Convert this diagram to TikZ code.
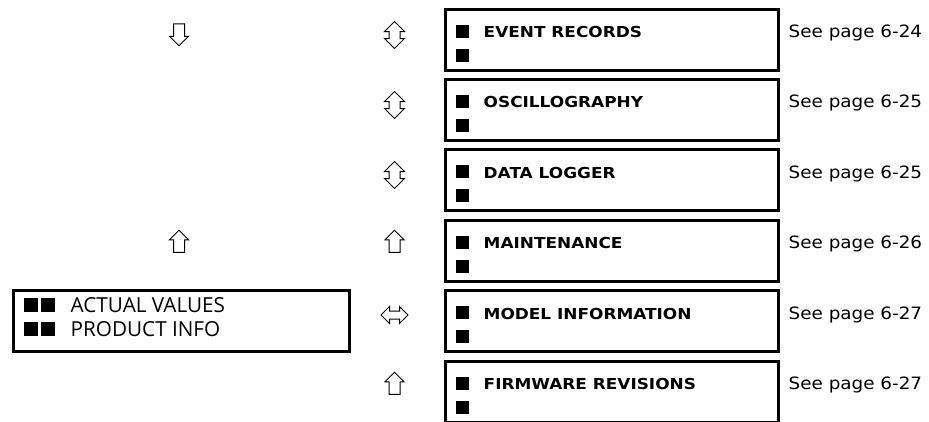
\documentclass[tikz,border=0pt]{standalone}
\usepackage{fontspec}
\setmainfont{Open Sans}
\newfontfamily\menufont[FakeStretch=1.12]{DejaVu Sans}
\newfontfamily\pagefont[FakeStretch=1.08]{DejaVu Sans}
\usetikzlibrary{shapes.arrows}

\newcommand{\menusq}[1]{\rule{#1}{#1}}

\tikzset{
  menubox/.style={draw, line width=3pt, minimum width=333pt, minimum height=61pt,
    inner sep=0pt, anchor=north west},
  rootbox/.style={menubox, minimum width=336pt},
  menulabel/.style={anchor=base west, inner sep=0pt,
    font=\menufont\bfseries\fontsize{15.1}{18}\selectfont},
  rootlabel/.style={anchor=base west, inner sep=0pt,
    font=\fontsize{20.7}{24}\selectfont},
  pageref/.style={anchor=base west, inner sep=0pt,
    font=\pagefont\fontsize{17}{19}\selectfont},
  uparrow/.style={draw, line width=1pt, single arrow, inner xsep=0pt, inner ysep=5pt,
    single arrow head extend=4pt, minimum height=22pt, rotate=90},
  downarrow/.style={uparrow, rotate=180},
  updownarrow/.style={draw, line width=1pt, double arrow, inner xsep=0pt, inner ysep=5pt,
    double arrow head extend=4.5pt, minimum height=27pt, rotate=90},
  leftrightarrow/.style={draw, line width=1pt, double arrow, inner xsep=0pt, inner ysep=3.5pt,
    double arrow head extend=4.5pt, minimum height=27pt}
}

\begin{document}
\begin{tikzpicture}[x=1pt, y=-1pt]
\useasboundingbox (0,0) rectangle (929,421);

% Menu boxes
\node[menubox] (ev) at (443.5,7.5) {};
\node[menubox] (osc) at (443.5,77.9) {};
\node[menubox] (dl) at (443.5,148.3) {};
\node[menubox] (mnt) at (443.5,218.7) {};
\node[menubox] (mdl) at (443.5,289.1) {};
\node[menubox] (fw) at (443.5,359.5) {};
\node[rootbox] (root) at (11.5,289.1) {};

% Labels inside the boxes
\node[menulabel] (ev-a) at ([shift={(12,30)}]ev.north west) {\menusq{13pt}\hspace{15pt}EVENT RECORDS};
\node[menulabel] (ev-b) at ([shift={(12,54)}]ev.north west) {\menusq{13pt}};
\node[menulabel] (osc-a) at ([shift={(12,30)}]osc.north west) {\menusq{13pt}\hspace{15pt}OSCILLOGRAPHY};
\node[menulabel] (osc-b) at ([shift={(12,54)}]osc.north west) {\menusq{13pt}};
\node[menulabel] (dl-a) at ([shift={(12,30)}]dl.north west) {\menusq{13pt}\hspace{15pt}DATA LOGGER};
\node[menulabel] (dl-b) at ([shift={(12,54)}]dl.north west) {\menusq{13pt}};
\node[menulabel] (mnt-a) at ([shift={(12,30)}]mnt.north west) {\menusq{13pt}\hspace{15pt}MAINTENANCE};
\node[menulabel] (mnt-b) at ([shift={(12,54)}]mnt.north west) {\menusq{13pt}};
\node[menulabel] (mdl-a) at ([shift={(12,30)}]mdl.north west) {\menusq{13pt}\hspace{15pt}MODEL INFORMATION};
\node[menulabel] (mdl-b) at ([shift={(12,54)}]mdl.north west) {\menusq{13pt}};
\node[menulabel] (fw-a) at ([shift={(12,30)}]fw.north west) {\menusq{13pt}\hspace{15pt}FIRMWARE REVISIONS};
\node[menulabel] (fw-b) at ([shift={(12,54)}]fw.north west) {\menusq{13pt}};
\node[rootlabel] (root-a) at ([shift={(12,23)}]root.north west) {\menusq{14pt}\hspace{3pt}\menusq{14pt}\hspace{16pt}ACTUAL VALUES};
\node[rootlabel] (root-b) at ([shift={(12,47)}]root.north west) {\menusq{14pt}\hspace{3pt}\menusq{14pt}\hspace{16pt}PRODUCT INFO};

% Page references
\node[pageref] (ev-p) at ([shift={(9,30)}]ev.north east) {See page 6-24};
\node[pageref] (osc-p) at ([shift={(9,30)}]osc.north east) {See page 6-25};
\node[pageref] (dl-p) at ([shift={(9,30)}]dl.north east) {See page 6-25};
\node[pageref] (mnt-p) at ([shift={(9,30)}]mnt.north east) {See page 6-26};
\node[pageref] (mdl-p) at ([shift={(9,30)}]mdl.north east) {See page 6-27};
\node[pageref] (fw-p) at ([shift={(9,30)}]fw.north east) {See page 6-27};

% Navigation arrows
\node[downarrow] (nav-down) at (179,32) {};
\node[uparrow] (nav-up) at (179,244) {};
\node[updownarrow] (nav-ev) at (394.5,35) {};
\node[updownarrow] (nav-osc) at (394.5,105) {};
\node[updownarrow] (nav-dl) at (394.5,175) {};
\node[uparrow] (nav-mnt) at (394.5,244) {};
\node[leftrightarrow] (nav-mdl) at (394.5,315) {};
\node[uparrow] (nav-fw) at (394.5,386) {};

\end{tikzpicture}
\end{document}
